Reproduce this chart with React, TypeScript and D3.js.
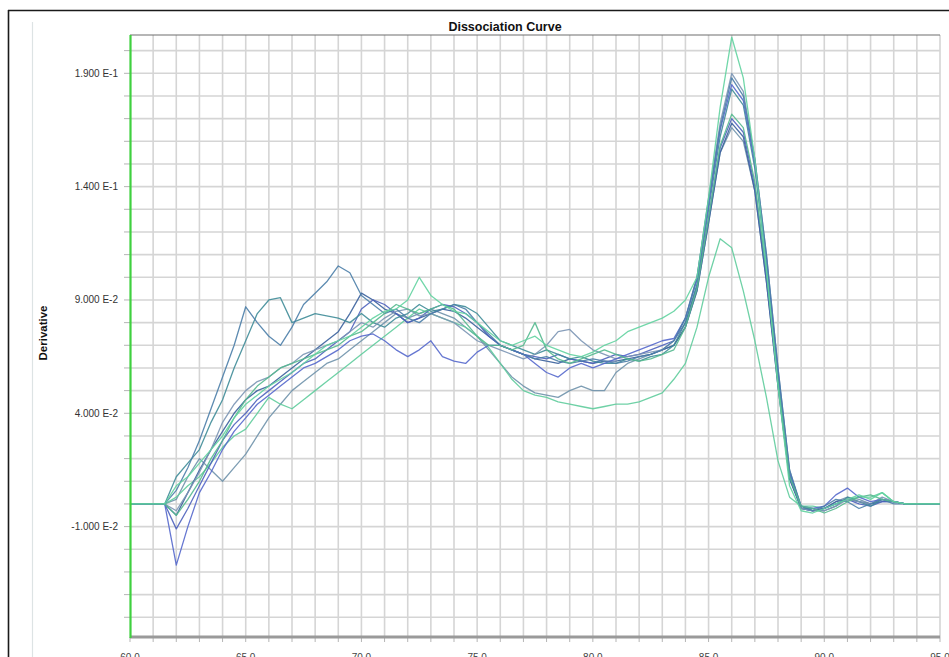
import React from 'react';
import * as d3 from 'd3';

// temperatures (°C) shared by every well
const TEMPS = [
  60, 61.5, 62, 62.5, 63, 63.5, 64, 64.5, 65, 65.5,
  66, 66.5, 67, 67.5, 68, 68.5, 69, 69.5, 70, 70.5,
  71, 71.5, 72, 72.5, 73, 73.5, 74, 74.5, 75, 75.5,
  76, 76.5, 77, 77.5, 78, 78.5, 79, 79.5, 80, 80.5,
  81, 81.5, 82, 82.5, 83, 83.5, 84, 84.5, 85, 85.5,
  86, 86.5, 87, 87.5, 88, 88.5, 89, 89.5, 90, 90.5,
  91, 91.5, 92, 92.5, 93, 93.5, 95,
];

// derivative values, in units of 1e-3
const S1 = [
  0, 0, 6, 16, 28, 42, 56, 70, 87, 80,
  74, 70, 78, 88, 93, 98, 105, 102, 92, 88,
  84, 86, 82, 80, 84, 86, 88, 86, 80, 75,
  70, 68, 66, 64, 65, 63, 62, 63, 64, 63,
  62, 63, 65, 66, 68, 72, 82, 100, 134, 166,
  188, 180, 152, 110, 60, 15, -1, -3, -1, 2,
  1, -2, 0, 2, 0, 0, 0,
];
const S2 = [
  0, 0, 12, 18, 24, 36, 46, 60, 72, 84,
  90, 91, 80, 82, 84, 83, 82, 80, 84, 80,
  78, 82, 84, 88, 85, 86, 88, 87, 84, 78,
  72, 70, 68, 66, 68, 66, 64, 65, 63, 62,
  62, 64, 63, 65, 66, 70, 80, 97, 130, 162,
  183, 176, 148, 106, 56, 13, -2, -2, -3, -1,
  3, 1, -1, 2, 1, 0, 0,
];
const G1 = [
  0, 0, 8, 12, 18, 24, 30, 38, 44, 48,
  52, 55, 58, 62, 66, 70, 72, 74, 78, 82,
  85, 86, 90, 100, 92, 88, 85, 84, 80, 76,
  72, 70, 72, 74, 70, 68, 66, 65, 67, 70,
  72, 76, 78, 80, 82, 85, 90, 100, 135, 175,
  206, 188, 152, 104, 52, 8, -3, -4, -2, 0,
  2, 4, 2, 5, 1, 0, 0,
];
const G2 = [
  0, 0, -5, 2, 10, 20, 28, 38, 46, 52,
  56, 60, 62, 64, 66, 68, 70, 74, 76, 80,
  84, 88, 86, 84, 86, 88, 86, 80, 74, 70,
  70, 68, 70, 80, 68, 64, 62, 64, 66, 68,
  66, 64, 63, 64, 66, 68, 78, 95, 126, 158,
  172, 166, 142, 102, 54, 12, -1, -2, -4, -2,
  1, 3, 4, 2, 1, 0, 0,
];
const G3 = [
  0, 0, 3, 8, 12, 18, 25, 30, 33, 40,
  47, 44, 42, 46, 50, 54, 58, 62, 66, 70,
  74, 78, 82, 86, 84, 82, 80, 78, 74, 69,
  62, 55, 50, 48, 47, 45, 44, 43, 42, 43,
  44, 44, 45, 47, 49, 55, 62, 78, 100, 117,
  113, 94, 72, 47, 19, 3, -1, -1, -2, 0,
  2, 3, 3, 5, 1, 0, 0,
];
const B1 = [
  0, 0, -27, -10, 5, 14, 24, 32, 38, 44,
  48, 52, 56, 60, 62, 65, 68, 72, 74, 75,
  72, 68, 65, 68, 72, 65, 63, 62, 67, 70,
  70, 68, 66, 62, 58, 56, 60, 62, 60, 62,
  64, 66, 68, 70, 72, 73, 82, 99, 132, 165,
  185, 178, 150, 108, 58, 14, -1, -2, -1, 4,
  7, 3, 1, 2, 1, 0, 0,
];
const B2 = [
  0, 0, -11, -2, 8, 18, 28, 35, 40, 46,
  50, 54, 58, 62, 64, 68, 72, 76, 86, 90,
  88, 84, 80, 82, 86, 88, 87, 84, 80, 74,
  70, 68, 66, 65, 64, 66, 64, 63, 62, 64,
  66, 65, 66, 68, 70, 72, 80, 96, 126, 157,
  170, 164, 140, 100, 54, 12, -2, -3, -2, 0,
  2, 0, -1, 1, 1, 0, 0,
];
const T1 = [
  0, 0, 2, 12, 20, 15, 10, 16, 22, 30,
  38, 44, 50, 54, 58, 62, 64, 68, 72, 76,
  80, 84, 82, 84, 86, 84, 82, 78, 74, 68,
  62, 56, 52, 49, 48, 47, 50, 52, 50, 50,
  58, 62, 64, 66, 68, 70, 78, 94, 124, 155,
  166, 160, 138, 98, 52, 11, -1, -3, -2, 1,
  3, 2, 0, 2, 1, 0, 0,
];
const T2 = [
  0, 0, -3, 5, 14, 24, 36, 44, 50, 54,
  56, 60, 62, 66, 68, 70, 72, 76, 80, 78,
  82, 85, 86, 83, 84, 82, 80, 76, 72, 70,
  68, 66, 64, 66, 70, 76, 77, 72, 68, 66,
  64, 65, 66, 67, 68, 72, 82, 100, 135, 168,
  190, 182, 152, 110, 60, 15, -2, -3, -3, -1,
  2, 1, 0, 3, 1, 0, 0,
];
const N1 = [
  0, 0, -5, 5, 15, 24, 32, 40, 46, 50,
  52, 56, 60, 64, 68, 72, 76, 84, 93, 90,
  86, 84, 80, 82, 84, 86, 85, 82, 78, 74,
  70, 68, 66, 64, 63, 62, 64, 63, 62, 63,
  63, 64, 65, 66, 68, 70, 78, 94, 124, 155,
  168, 162, 138, 98, 52, 11, -2, -3, -2, 1,
  2, 1, 0, 1, 1, 0, 0,
];

const SERIES = [
  { values: T1, color: '#6f92ab' },
  { values: G3, color: '#5fcc9c' },
  { values: N1, color: '#3a619c' },
  { values: B2, color: '#4e62bd' },
  { values: S2, color: '#3f8c98' },
  { values: T2, color: '#7b95b4' },
  { values: B1, color: '#5568cc' },
  { values: S1, color: '#4b7ea8' },
  { values: G2, color: '#55b98f' },
  { values: G1, color: '#62d3a0' },
];

const Y_TICKS = [-10, 40, 90, 140, 190];
const Y_TICK_LABELS = ['-1.000 E-2', '4.000 E-2', '9.000 E-2', '1.400 E-1', '1.900 E-1'];
const X_TICKS = [60, 65, 70, 75, 80, 85, 90, 95];
const X_TICK_LABELS = ['60.0', '65.0', '70.0', '75.0', '80.0', '85.0', '90.0', '95.0'];

const W = 949;
const H = 657;
const margin = { top: 35, right: 9, bottom: 20, left: 130 };

export default function App() {
  const x = d3.scaleLinear().domain([60, 95]).range([margin.left, W - margin.right]);
  const y = d3.scaleLinear().domain([-58.7, 206.9]).range([H - margin.bottom, margin.top]);

  const line = d3.line<number>()
    .x((_, i) => x(TEMPS[i]))
    .y(d => y(d));

  const xGrid = d3.range(61, 96, 1);
  const yGrid = d3.range(-50, 201, 10);
  const font = 'Arial, "Liberation Sans", sans-serif';

  return (
    <div style={{ position: 'fixed', left: 0, top: 0, width: W, height: H, background: '#fff' }}>
      <svg width={W} height={H} style={{ display: 'block' }}>
        <rect width={W} height={H} fill="#fff" />
        {/* outer frame */}
        <line x1={8} x2={W} y1={10.5} y2={10.5} stroke="#1a1a1a" strokeWidth={1.6} />
        <line x1={8.5} x2={8.5} y1={10} y2={H} stroke="#1a1a1a" strokeWidth={1.6} />
        <line x1={32.5} x2={32.5} y1={22} y2={H} stroke="#dde3e4" strokeWidth={1.2} />

        <text x={505} y={31} textAnchor="middle" fontFamily={font} fontWeight="bold" fontSize={12.5} fill="#111">
          Dissociation Curve
        </text>

        {/* grid */}
        <g stroke="#d5d5d5" strokeWidth={1.6}>
          {xGrid.map(t => (
            <line key={'gx' + t} x1={x(t)} x2={x(t)} y1={margin.top} y2={H - margin.bottom} />
          ))}
          {yGrid.map(v => (
            <line key={'gy' + v} x1={margin.left} x2={W - margin.right} y1={y(v)} y2={y(v)} />
          ))}
        </g>

        {/* y ticks */}
        <g stroke="#b5b5b5" strokeWidth={1}>
          {yGrid.map(v => (
            <line key={'ty' + v} x1={margin.left - 6} x2={margin.left} y1={y(v)} y2={y(v)} />
          ))}
        </g>
        {Y_TICKS.map((v, i) => (
          <text key={'ly' + v} x={118} y={y(v) + 3.5} textAnchor="end" fontFamily={font} fontSize={10} fill="#333">
            {Y_TICK_LABELS[i]}
          </text>
        ))}

        {/* x ticks */}
        <g stroke="#b5b5b5" strokeWidth={1}>
          {d3.range(60, 96, 1).map(t => (
            <line key={'tx' + t} x1={x(t)} x2={x(t)} y1={H - margin.bottom} y2={H - margin.bottom + 5} />
          ))}
        </g>
        {X_TICKS.map((t, i) => (
          <text key={'lx' + t} x={x(t)} y={661} textAnchor="middle" fontFamily={font} fontSize={10} fill="#444">
            {X_TICK_LABELS[i]}
          </text>
        ))}

        <text
          transform={`translate(47,333) rotate(-90)`}
          textAnchor="middle"
          fontFamily={font}
          fontWeight="bold"
          fontSize={11.5}
          fill="#111"
        >
          Derivative
        </text>

        {/* plot frame */}
        <line x1={margin.left} x2={W - margin.right} y1={margin.top} y2={margin.top} stroke="#6e6e6e" strokeWidth={1.2} />
        <line x1={margin.left} x2={W - margin.right} y1={H - margin.bottom} y2={H - margin.bottom} stroke="#9a9a9a" strokeWidth={3} />

        {/* curves */}
        <g fill="none" strokeWidth={1.3} strokeLinejoin="round">
          {SERIES.map((s, i) => (
            <path key={i} d={line(s.values) || ''} stroke={s.color} opacity={0.9} />
          ))}
        </g>

        <line x1={margin.left + 0.5} x2={margin.left + 0.5} y1={margin.top} y2={H - margin.bottom + 1} stroke="#3fd03f" strokeWidth={2.2} />
      </svg>
    </div>
  );
}
